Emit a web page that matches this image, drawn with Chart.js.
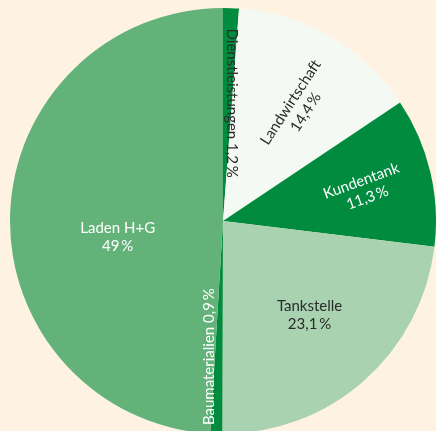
<!DOCTYPE html>
<html>
<head>
<meta charset="utf-8">
<script src="https://cdn.jsdelivr.net/npm/chart.js@4"></script>
<style>
  html, body { margin: 0; padding: 0; background: #fef3e2; overflow: hidden; width: 436px; height: 431px; }
  #wrap { position: absolute; left: 10px; top: 8px; width: 426px; height: 426px; }
</style>
</head>
<body>
<div id="wrap"><canvas id="pieChart"></canvas></div>
<script>
// Daten (Anteile in %)
var categories = ['Dienstleistungen', 'Landwirtschaft', 'Kundentank', 'Tankstelle', 'Baumaterialien', 'Laden H+G'];
var shares = [1.2, 14.4, 11.3, 23.1, 0.9, 49];

// Farben je Segment
var sliceColors = ['#008b3e', '#f5f9f4', '#008b3e', '#a9d2b1', '#008b3e', '#63b27a'];

// Beschriftung: Winkelversatz (Grad), Radius-Anteil, Drehung, Farbe, einzeilig?
var labelStyle = [
    { shift: 2.2, r: 0.555, rot: 90, color: '#2b2b2b', oneLine: true },
    { shift: 3.2, r: 0.64, rot: -57, color: '#2b2b2b' },
    { shift: 0.8, r: 0.68, rot: -20, color: '#ffffff' },
    { shift: -1.2, r: 0.6, rot: 0, color: '#2b2b2b' },
    { shift: 3.9, r: 0.64, rot: -90, color: '#ffffff', oneLine: true },
    { shift: -10.3, r: 0.5, rot: 0, color: '#ffffff' }
];

function formatShare(v) {
    return String(v).replace('.', ',') + '\u2009%';
}

var sliceLabels = {
    id: 'sliceLabels',
    afterDatasetsDraw: function (chart) {
        var ctx = chart.ctx;
        var arcs = chart.getDatasetMeta(0).data;
        ctx.save();
        ctx.font = '15px Lato, "Open Sans", sans-serif';
        ctx.textAlign = 'center';
        ctx.textBaseline = 'middle';
        arcs.forEach(function (arc, i) {
            var p = arc.getProps(['x', 'y', 'startAngle', 'endAngle', 'outerRadius'], true);
            var s = labelStyle[i];
            var mid = (p.startAngle + p.endAngle) / 2 + s.shift * Math.PI / 180;
            var lx = p.x + Math.cos(mid) * p.outerRadius * s.r;
            var ly = p.y + Math.sin(mid) * p.outerRadius * s.r;
            ctx.save();
            ctx.translate(lx, ly);
            ctx.rotate(s.rot * Math.PI / 180);
            ctx.fillStyle = s.color;
            if (s.oneLine) {
                ctx.fillText(categories[i] + ' ' + formatShare(shares[i]), 0, 0);
            } else {
                ctx.fillText(categories[i], 0, -9);
                ctx.fillText(formatShare(shares[i]), 0, 9);
            }
            ctx.restore();
        });
        ctx.restore();
    }
};

var currentPieChart = new Chart(document.getElementById('pieChart').getContext('2d'), {
    type: 'pie',
    data: {
        labels: categories,
        datasets: [{
            data: shares,
            backgroundColor: sliceColors,
            borderWidth: 0
        }]
    },
    options: {
        responsive: true,
        maintainAspectRatio: false,
        animation: false,
        events: [],
        layout: { padding: 0 },
        plugins: {
            legend: { display: false },
            tooltip: { enabled: false }
        }
    },
    plugins: [sliceLabels]
});
</script>
</body>
</html>
